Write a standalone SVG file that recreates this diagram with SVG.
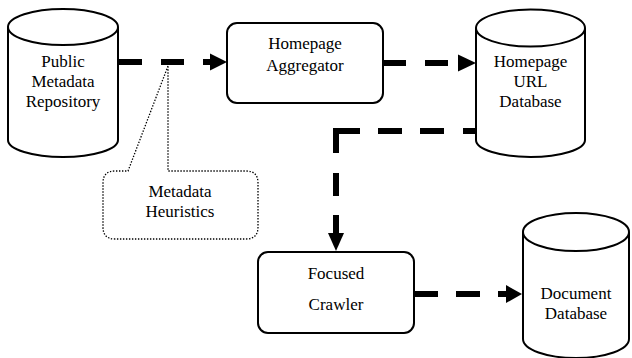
<svg xmlns="http://www.w3.org/2000/svg" width="632" height="358" viewBox="0 0 632 358">
<style>
.shape{fill:#fff;stroke:#000;stroke-width:2}
.callout{fill:none;stroke:#000;stroke-width:1.3;stroke-dasharray:1.4 1.6}
.lbl{font-family:"Liberation Serif","Times New Roman",serif;font-size:17px;fill:#000;text-anchor:middle}
.conn{fill:none;stroke:#000;stroke-width:6;stroke-linecap:butt;stroke-linejoin:miter}
.head{fill:#000;stroke:none}
</style>
<rect width="632" height="358" fill="#fff"/>
<g id="public-metadata-repository">
<path class="shape" d="M8,27 L8,140 A55,17 0 0 0 118,140 L118,27"/>
<ellipse class="shape" cx="63" cy="27" rx="55" ry="18"/>
<text class="lbl" x="63" y="67">Public</text>
<text class="lbl" x="63" y="87">Metadata</text>
<text class="lbl" x="63" y="107">Repository</text>
</g>
<g id="homepage-aggregator">
<rect class="shape" x="227" y="23" width="156" height="80" rx="10"/>
<text class="lbl" x="305" y="49">Homepage</text>
<text class="lbl" x="305" y="71">Aggregator</text>
</g>
<g id="homepage-url-database">
<path class="shape" d="M476,28 L476,140 A54.5,17 0 0 0 585,140 L585,28"/>
<ellipse class="shape" cx="530.5" cy="28" rx="54.5" ry="18.5"/>
<text class="lbl" x="530.5" y="67">Homepage</text>
<text class="lbl" x="530.5" y="87">URL</text>
<text class="lbl" x="530.5" y="107">Database</text>
</g>
<g id="metadata-heuristics">
<path class="callout" d="M168,66 L128,171 L115,171 Q103,171 103,183 L103,227 Q103,239 115,239 L246,239 Q258,239 258,227 L258,183 Q258,171 246,171 L168,171 Z"/>
<text class="lbl" x="180" y="197">Metadata</text>
<text class="lbl" x="180" y="217">Heuristics</text>
</g>
<g id="focused-crawler">
<rect class="shape" x="258" y="252" width="156" height="81" rx="10"/>
<text class="lbl" x="336" y="279">Focused</text>
<text class="lbl" x="336" y="310">Crawler</text>
</g>
<g id="document-database">
<path class="shape" d="M523,232 L523,339 A53,19 0 0 0 629,339 L629,232"/>
<ellipse class="shape" cx="576" cy="232" rx="53" ry="19"/>
<text class="lbl" x="576" y="299">Document</text>
<text class="lbl" x="576" y="319">Database</text>
</g>
<g id="connectors">
<path class="conn" d="M118,62 H142 M161,62 H184 M203,62 H211"/>
<polygon class="head" points="210,53.5 227,62 210,70.5"/>
<path class="conn" d="M383,63 H406 M425,63 H448"/>
<polygon class="head" points="458,54.5 476,63 458,71.5"/>
<path class="conn" d="M476,131 H463 M444,131 H420 M402,131 H378 M360,131 H336 V153 M336,173 V196 M336,215 V234"/>
<polygon class="head" points="328,233 344,233 336,251"/>
<path class="conn" d="M414,294 H438 M456,294 H480 M498,294 H507"/>
<polygon class="head" points="506,285 522,294 506,303"/>
</g>
</svg>
